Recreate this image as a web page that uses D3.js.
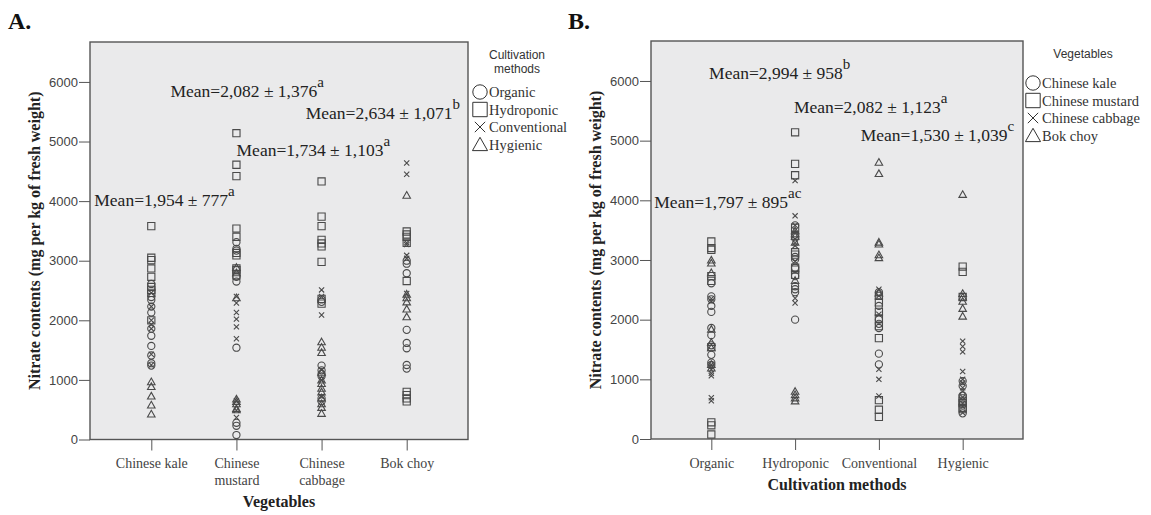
<!DOCTYPE html>
<html lang="en">
<head>
  <meta charset="UTF-8">
  <title>Nitrate contents by vegetable and cultivation method</title>
  <style>
    body { margin: 0; background: #fff; }
    svg { display: block; }
  </style>
</head>
<body>
  <div id="chart"></div>

  <script src="https://d3js.org/d3.v7.min.js"></script>
  <script>
    const width = 1151
    const height = 515

    const SERIF = "'Liberation Serif', 'Times New Roman', serif"
    const SANS = "'Liberation Sans', Arial, sans-serif"

    // categories
    const vegetables = ['Chinese kale', 'Chinese mustard', 'Chinese cabbage', 'Bok choy']
    const methods = ['Organic', 'Hydroponic', 'Conventional', 'Hygienic']
    const vegetableTickLines = [['Chinese kale'], ['Chinese', 'mustard'], ['Chinese', 'cabbage'], ['Bok choy']]
    const methodTickLines = [['Organic'], ['Hydroponic'], ['Conventional'], ['Hygienic']]
    const yTicks = [0, 1000, 2000, 3000, 4000, 5000, 6000]

    // nitrate (mg/kg) per vegetable, one list per cultivation method (Organic, Hydroponic, Conventional, Hygienic)
    const kale = [
      [2610, 2390, 2340, 2230, 2130, 1860, 1740, 1570, 1410, 1280, 1240],
      [3580, 3050, 3010, 2870, 2730, 2560, 2510, 2460, 2000],
      [2460, 2230, 2000, 1930, 1860, 1430, 1250],
      [970, 890, 730, 580, 430]
    ]
    const mustard = [
      [3310, 3200, 3170, 2730, 2650, 1540, 280, 230, 75],
      [5140, 4610, 4420, 3540, 3400, 3130, 3090, 2870, 2840, 2750],
      [2400, 2290, 2130, 2020, 1890, 1690, 650, 490, 370],
      [2890, 2800, 2380, 680, 640, 600, 520, 500]
    ]
    const cabbage = [
      [2350, 2310, 1240, 1160, 1100, 1060, 690, 640],
      [4330, 3740, 3580, 3350, 3290, 3240, 2980, 2360, 2280],
      [2510, 2400, 2090, 1170, 1000, 720],
      [1640, 1550, 1460, 1130, 1000, 940, 860, 800, 700, 600, 540, 440]
    ]
    const bokChoy = [
      [3000, 2950, 2790, 1840, 1620, 1530, 1250, 1190],
      [3490, 3440, 3400, 3300, 2660, 800, 745, 690, 640],
      [4640, 4450, 3300, 3270, 3090, 3040, 2450],
      [4100, 2440, 2380, 2310, 2190, 2060]
    ]
    const byVegetable = [kale, mustard, cabbage, bokChoy]

    // mean annotations
    const vegetableMeans = ['Mean=1,954 ± 777', 'Mean=2,082 ± 1,376', 'Mean=1,734 ± 1,103', 'Mean=2,634 ± 1,071']
    const vegetableLetters = ['a', 'a', 'a', 'b']
    const methodMeans = ['Mean=1,797 ± 895', 'Mean=2,994 ± 958', 'Mean=2,082 ± 1,123', 'Mean=1,530 ± 1,039']
    const methodLetters = ['ac', 'b', 'a', 'c']

    // where the annotations sit (offset from the category tick, height in data units)
    const vegetableMeanPos = [[-57, 3920], [-66, 5740], [-85, 4750], [-101, 5385]]
    const methodMeanPos = [[-57, 3870], [-86, 6035], [-85, 5465], [-102, 4995]]

    // marker shapes: circle, square, cross, triangle
    const shapes = [
      { draw(ctx, r) { ctx.moveTo(r, 0); ctx.arc(0, 0, r, 0, 2 * Math.PI) } },
      { draw(ctx, r) { ctx.rect(-r, -r, 2 * r, 2 * r) } },
      { draw(ctx, r) { const a = r * 0.72; ctx.moveTo(-a, -a); ctx.lineTo(a, a); ctx.moveTo(a, -a); ctx.lineTo(-a, a) } },
      { draw(ctx, r) { ctx.moveTo(0, -r); ctx.lineTo(r * 1.05, r * 0.85); ctx.lineTo(-r * 1.05, r * 0.85); ctx.closePath() } }
    ]

    const svg = d3.select('#chart').append('svg')
      .attr('width', width)
      .attr('height', height)

    function drawPanel(p) {
      const g = svg.append('g')

      const x = d3.scalePoint()
        .domain(p.categories)
        .range([p.left, p.right])
        .padding(0.72)

      const y = d3.scaleLinear()
        .domain([0, 6670])
        .range([p.bottom, p.top])

      // plot background
      g.append('rect')
        .attr('x', p.left)
        .attr('y', p.top)
        .attr('width', p.right - p.left)
        .attr('height', p.bottom - p.top)
        .attr('fill', '#eaeaeb')

      // y axis
      const ya = g.append('g')
        .attr('transform', `translate(${p.left},0)`)
        .call(d3.axisLeft(y).tickValues(yTicks).tickSize(11).tickPadding(1).tickFormat(d3.format('d')))
      ya.select('.domain').remove()
      ya.selectAll('line').attr('stroke', '#555')
      ya.selectAll('text')
        .attr('font-family', SANS)
        .attr('font-size', 13)
        .attr('fill', '#444')

      // x axis
      const xa = g.append('g')
        .attr('transform', `translate(0,${p.bottom})`)
        .call(d3.axisBottom(x).tickSize(11).tickFormat(() => ''))
      xa.select('.domain').remove()
      xa.selectAll('line').attr('stroke', '#555')
      xa.selectAll('.tick text')
        .attr('y', null)
        .attr('dy', null)
        .attr('font-family', SERIF)
        .attr('font-size', 14)
        .attr('fill', '#444')
        .each(function (d, i) {
          const t = d3.select(this)
          p.tickLines[i].forEach((line, k) => {
            t.append('tspan').attr('x', 0).attr('y', 28.5 + k * 16.5).text(line)
          })
        })

      // points
      const pts = []
      p.categories.forEach((c, i) => {
        p.groups[i].forEach((vals, k) => {
          vals.forEach(v => pts.push({ c, k, v }))
        })
      })
      g.append('g')
        .selectAll('path')
        .data(pts)
        .join('path')
        .attr('transform', d => `translate(${x(d.c)},${y(d.v)})`)
        .attr('d', d => d3.symbol().type(shapes[d.k]).size(3.6)())
        .attr('fill', 'none')
        .attr('stroke', '#4a4a4a')
        .attr('stroke-width', 1.1)

      // frame
      g.append('rect')
        .attr('x', p.left)
        .attr('y', p.top)
        .attr('width', p.right - p.left)
        .attr('height', p.bottom - p.top)
        .attr('fill', 'none')
        .attr('stroke', '#555')
        .attr('stroke-width', 1.4)

      // mean annotations
      p.categories.forEach((c, i) => {
        const t = g.append('text')
          .attr('x', x(c) + p.meanPos[i][0])
          .attr('y', y(p.meanPos[i][1]))
          .attr('font-family', SERIF)
          .attr('font-size', 17.5)
          .attr('fill', '#222')
        t.append('tspan').text(p.means[i])
        t.append('tspan').attr('dy', -10).attr('font-size', 15).text(p.letters[i])
      })

      // axis titles
      g.append('text')
        .attr('x', (p.left + p.right) / 2)
        .attr('y', p.xTitleY)
        .attr('text-anchor', 'middle')
        .attr('font-family', SERIF)
        .attr('font-weight', 'bold')
        .attr('font-size', 16)
        .attr('fill', '#222')
        .text(p.xTitle)

      g.append('text')
        .attr('transform', `translate(${p.left - 50},${(p.top + p.bottom) / 2}) rotate(-90)`)
        .attr('text-anchor', 'middle')
        .attr('font-family', SERIF)
        .attr('font-weight', 'bold')
        .attr('font-size', 16)
        .attr('fill', '#222')
        .text('Nitrate contents (mg per kg of fresh weight)')

      // panel letter
      g.append('text')
        .attr('x', p.letterX)
        .attr('y', 29)
        .attr('font-family', SERIF)
        .attr('font-weight', 'bold')
        .attr('font-size', 24)
        .attr('fill', '#111')
        .text(p.letter)

      // legend
      const lg = g.append('g')
      p.legendTitle.forEach((line, i) => {
        lg.append('text')
          .attr('x', p.legendTitleX)
          .attr('y', p.legendTitleY + i * 14)
          .attr('text-anchor', 'middle')
          .attr('font-family', SANS)
          .attr('font-size', 12)
          .attr('fill', '#333')
          .text(line)
      })
      p.legendItems.forEach((name, k) => {
        const cy = p.legendItemY + k * 17.5
        lg.append('path')
          .attr('transform', `translate(${p.legendSymX},${cy})`)
          .attr('d', d3.symbol().type(shapes[k]).size(7.2)())
          .attr('fill', 'none')
          .attr('stroke', '#333')
          .attr('stroke-width', 1)
        lg.append('text')
          .attr('x', p.legendSymX + 9)
          .attr('y', cy + 5)
          .attr('font-family', SERIF)
          .attr('font-size', 14.5)
          .attr('fill', '#333')
          .text(name)
      })
    }

    // panel A: grouped by vegetable, marker = cultivation method
    drawPanel({
      left: 90, right: 468, top: 42, bottom: 439.5,
      categories: vegetables,
      tickLines: vegetableTickLines,
      groups: byVegetable,
      means: vegetableMeans,
      letters: vegetableLetters,
      meanPos: vegetableMeanPos,
      xTitle: 'Vegetables',
      xTitleY: 507,
      letter: 'A.',
      letterX: 8,
      legendTitle: ['Cultivation', 'methods'],
      legendTitleX: 517,
      legendTitleY: 59,
      legendItems: methods,
      legendItemY: 92,
      legendSymX: 480
    })

    // panel B: same samples grouped by method, marker = vegetable
    drawPanel({
      left: 651, right: 1023, top: 41, bottom: 439,
      categories: methods,
      tickLines: methodTickLines,
      groups: methods.map((m, j) => byVegetable.map(v => v[j])),
      means: methodMeans,
      letters: methodLetters,
      meanPos: methodMeanPos,
      xTitle: 'Cultivation methods',
      xTitleY: 490,
      letter: 'B.',
      letterX: 568,
      legendTitle: ['Vegetables'],
      legendTitleX: 1083,
      legendTitleY: 58,
      legendItems: vegetables,
      legendItemY: 83,
      legendSymX: 1033
    })
  </script>
</body>
</html>
